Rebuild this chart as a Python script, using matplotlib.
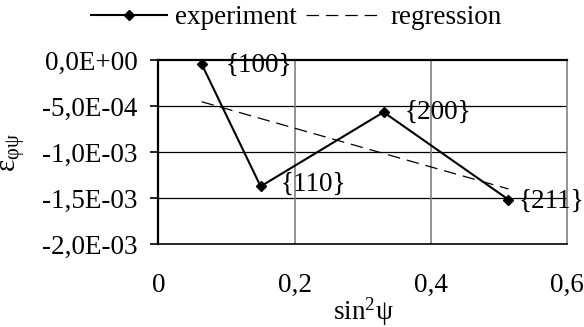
import matplotlib
matplotlib.use('Agg')
import matplotlib.pyplot as plt
from matplotlib.lines import Line2D
from matplotlib.ticker import FuncFormatter

# values
sin2psi = [0.0635, 0.150, 0.3306, 0.514]
strain = [-0.04e-3, -1.372e-3, -0.563e-3, -1.516e-3]
planes = ['{100}', '{110}', '{200}', '{211}']
label_offsets = [(24, -1), (20, 2), (21, 0), (10, -2)]

reg_x = [0.0635, 0.514]
reg_y = [-0.45e-3, -1.40e-3]

x_ticks = [0, 0.2, 0.4, 0.6]
y_ticks = [0, -0.5e-3, -1.0e-3, -1.5e-3, -2.0e-3]

plt.rcParams['font.family'] = ['Liberation Serif', 'DejaVu Serif']
plt.rcParams['mathtext.fontset'] = 'custom'
plt.rcParams['mathtext.rm'] = 'Liberation Serif'
plt.rcParams['mathtext.it'] = 'Liberation Serif:italic'
plt.rcParams['axes.unicode_minus'] = False
fs = 19.5

fig = plt.figure(figsize=(5.84, 3.27), dpi=100)
ax = fig.add_axes([0.2714, 0.2538, 0.6995, 0.5612])

ax.plot(sin2psi, strain, color='black', lw=1.5, marker='D', markersize=5.5, clip_on=False, zorder=5)
ax.plot(reg_x, reg_y, color='black', lw=0.9, linestyle=(0, (10, 5.5)), zorder=4)

for xv, yv, name, off in zip(sin2psi, strain, planes, label_offsets):
    ax.annotate(name, (xv, yv), xytext=off, textcoords='offset pixels',
                ha='left', va='center', fontsize=fs)

ax.set_xlim(0, 0.6)
ax.set_ylim(-2.0e-3, 0)
ax.set_xticks(x_ticks)
ax.set_yticks(y_ticks)
ax.xaxis.set_major_formatter(FuncFormatter(lambda v, p: '0' if v == 0 else f'{v:.1f}'.replace('.', ',')))
ax.yaxis.set_major_formatter(FuncFormatter(lambda v, p: f'{v:.1E}'.replace('.', ',')))
ax.tick_params(axis='x', length=0, pad=21, labelsize=fs)
ax.tick_params(axis='y', direction='out', length=6, width=1.2, pad=9, labelsize=fs)

# grid: horizontal black, vertical grey
for yv in y_ticks[1:-1]:
    ax.axhline(yv, color='black', lw=0.9, zorder=1)
for xv in x_ticks[1:-1]:
    ax.axvline(xv, color='#808080', lw=1.2, zorder=1)

ax.spines['left'].set_linewidth(1.6)
ax.spines['top'].set_linewidth(1.6)
ax.spines['bottom'].set_linewidth(1.2)
ax.spines['right'].set_color('#808080')
ax.spines['right'].set_linewidth(1.2)

fig.text(363 / 584, 1 - 312 / 327, r'$\mathrm{sin}^{2}\mathrm{ψ}$', ha='center', va='center', fontsize=fs)
fig.text(13 / 584, 0.533, r'$\mathrm{ε}_{\mathrm{φψ}}$', rotation=90, ha='center', va='center', fontsize=21)

handles = [Line2D([], [], color='black', lw=1.5, marker='D', markersize=5.5),
           Line2D([], [], color='black', lw=0.9, linestyle=(0, (10, 5.5)))]
fig.legend(handles, ['experiment', 'regression'], loc='center', bbox_to_anchor=(0.507, 0.945),
           ncol=2, frameon=False, fontsize=fs, handlelength=2.8, handletextpad=0.3,
           columnspacing=0.35, borderpad=0)

fig.savefig('out.png', dpi=100)
